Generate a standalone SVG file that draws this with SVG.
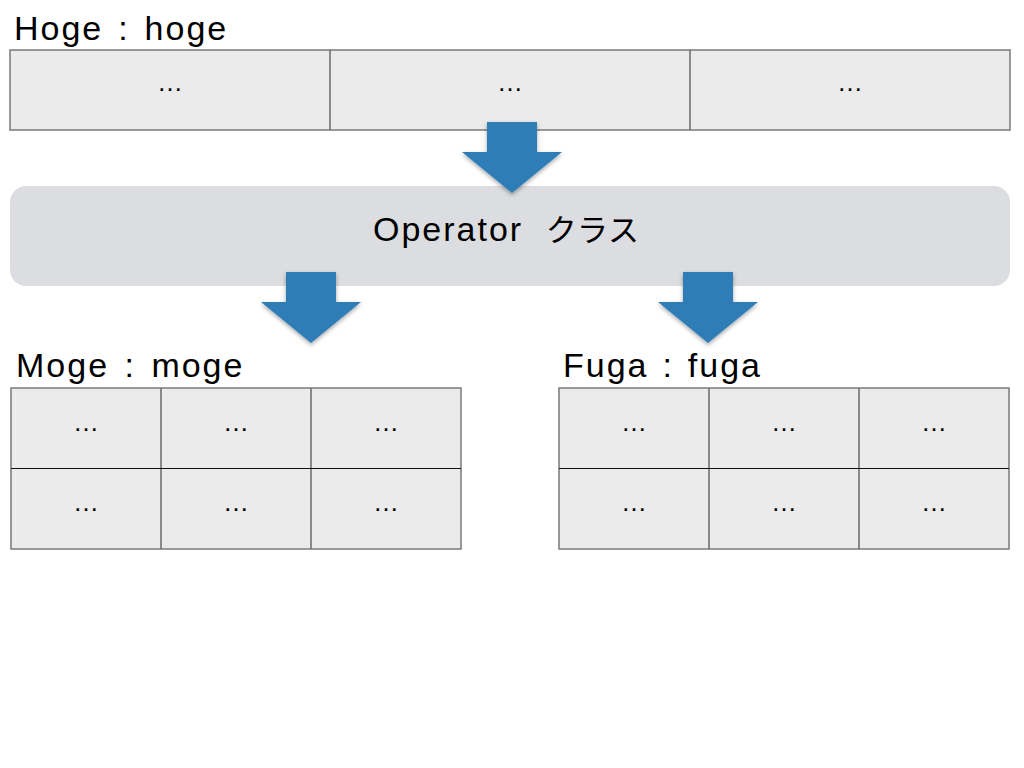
<svg xmlns="http://www.w3.org/2000/svg" width="1024" height="768" viewBox="0 0 1024 768">
<style>
.lbl{font-family:"Liberation Sans",Arial,sans-serif;font-size:34px;letter-spacing:2px;fill:#000}
.dots{font-family:"Liberation Sans",Arial,sans-serif;font-size:26px;fill:#000;text-anchor:middle}
.cell{fill:#ebebeb;stroke:#7a7a7a;stroke-width:1.5}
.div{stroke:#6a6a6a;stroke-width:1.5}
.hdiv{stroke:#111;stroke-width:1.2}
.arrow{fill:#2f7db6;filter:url(#sh)}
.op{font-family:"Liberation Sans","Noto Sans CJK JP",sans-serif;font-size:34px;letter-spacing:2px;word-spacing:11px;fill:#000}
</style>
<defs>
<filter id="sh" x="-20%" y="-20%" width="140%" height="140%">
<feDropShadow dx="0" dy="2" stdDeviation="2" flood-color="#000" flood-opacity="0.35"/>
</filter>
<path id="arr" d="M-25,0 H25 V30 H50 L0,71 L-50,30 H-25 Z"/>
</defs>
<rect width="1024" height="768" fill="#fff"/>

<g id="hoge">
<text class="lbl" x="14" y="40" word-spacing="3.5">Hoge : hoge</text>
<rect class="cell" x="10" y="50" width="1000" height="80"/>
<line class="div" x1="330" y1="50" x2="330" y2="130"/>
<line class="div" x1="690" y1="50" x2="690" y2="130"/>
<text class="dots" x="170" y="91">…</text>
<text class="dots" x="510" y="91">…</text>
<text class="dots" x="850" y="91">…</text>
</g>

<g id="operator">
<rect x="10" y="186" width="1000" height="100" rx="16" fill="#dcdde0"/>
<text class="op" x="373" y="241">Operator <tspan font-size="31" letter-spacing="0.5">クラス</tspan></text>
</g>

<g id="moge">
<text class="lbl" x="16" y="377" word-spacing="4">Moge : moge</text>
<rect class="cell" x="11" y="388" width="450" height="161"/>
<line class="div" x1="161" y1="388" x2="161" y2="549"/>
<line class="div" x1="311" y1="388" x2="311" y2="549"/>
<line class="hdiv" x1="11" y1="468.5" x2="461" y2="468.5"/>
<text class="dots" x="86" y="431">…</text>
<text class="dots" x="236" y="431">…</text>
<text class="dots" x="386" y="431">…</text>
<text class="dots" x="86" y="511">…</text>
<text class="dots" x="236" y="511">…</text>
<text class="dots" x="386" y="511">…</text>
</g>

<g id="fuga">
<text class="lbl" x="563" y="377" word-spacing="2.5">Fuga : fuga</text>
<rect class="cell" x="559" y="388" width="450" height="161"/>
<line class="div" x1="709" y1="388" x2="709" y2="549"/>
<line class="div" x1="859" y1="388" x2="859" y2="549"/>
<line class="hdiv" x1="559" y1="468.5" x2="1009" y2="468.5"/>
<text class="dots" x="634" y="431">…</text>
<text class="dots" x="784" y="431">…</text>
<text class="dots" x="934" y="431">…</text>
<text class="dots" x="634" y="511">…</text>
<text class="dots" x="784" y="511">…</text>
<text class="dots" x="934" y="511">…</text>
</g>

<g id="connectors">
<use href="#arr" class="arrow" transform="translate(512,122)"/>
<use href="#arr" class="arrow" transform="translate(311,272)"/>
<use href="#arr" class="arrow" transform="translate(708,272)"/>
</g>
</svg>
